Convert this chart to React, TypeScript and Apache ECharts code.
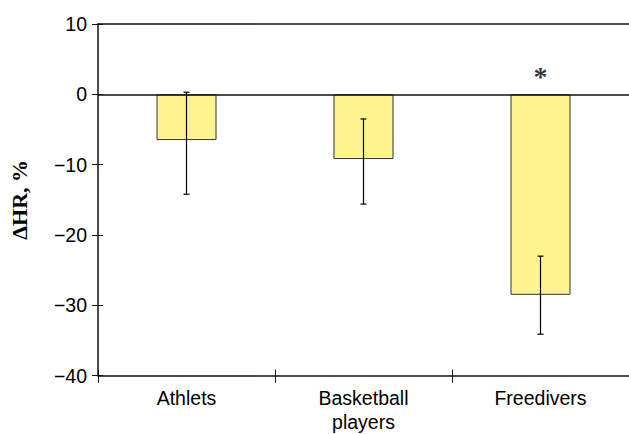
import React, { useEffect, useRef } from "react";
import * as echarts from "echarts";

const categories = ["Athlets", "Basketball\nplayers", "Freedivers"];
const meanValues = [-6.5, -9.2, -28.5];
const errorHigh = [0.3, -3.5, -23.0];
const errorLow = [-14.2, -15.6, -34.1];
const significance = ["", "", "*"];
const yTicks = { min: -40, max: 10, interval: 10 };

const SANS = "Liberation Sans";
const SERIF = "Liberation Serif";
const AXIS_COLOR = "#111";

export default function App() {
  const ref = useRef<HTMLDivElement>(null);

  useEffect(() => {
    document.body.style.margin = "0";
    if (!ref.current) return;
    const chart = echarts.init(ref.current, undefined, { renderer: "svg" });

    const errorData = categories.map((_, i) => [i, errorHigh[i], errorLow[i]]);
    const sigData = categories.map((_, i) => ({
      value: [i, 0],
      label: { show: significance[i] !== "", formatter: significance[i] },
    }));

    chart.setOption({
      animation: false,
      backgroundColor: "#fff",
      grid: { left: 96, top: 24, right: -2.5, bottom: 58.3, containLabel: false },
      xAxis: [
        {
          type: "category",
          data: categories,
          position: "bottom",
          axisLine: { show: true, onZero: false, lineStyle: { color: AXIS_COLOR, width: 1.5 } },
          axisTick: { show: true, inside: false, length: 7, lineStyle: { color: AXIS_COLOR, width: 1 } },
          axisLabel: {
            color: "#000",
            fontFamily: SANS,
            fontSize: 19.5,
            lineHeight: 24,
            margin: 10,
          },
          splitLine: { show: false },
        },
        {
          type: "category",
          data: categories,
          position: "bottom",
          axisLine: { show: false, onZero: false },
          axisTick: { show: true, inside: true, length: 6, lineStyle: { color: AXIS_COLOR, width: 1 } },
          axisLabel: { show: false },
          splitLine: { show: false },
        },
        {
          type: "category",
          data: categories,
          position: "top",
          axisLine: { show: true, onZero: false, lineStyle: { color: AXIS_COLOR, width: 1.5 } },
          axisTick: { show: false },
          axisLabel: { show: false },
          splitLine: { show: false },
        },
      ],
      yAxis: [
        {
          type: "value",
          min: yTicks.min,
          max: yTicks.max,
          interval: yTicks.interval,
          position: "left",
          name: "ΔHR, %",
          nameLocation: "middle",
          nameRotate: 90,
          nameGap: 68,
          nameTextStyle: {
            fontFamily: SERIF,
            fontWeight: "bold",
            fontSize: 22,
            color: "#000",
          },
          axisLine: { show: true, onZero: false, lineStyle: { color: AXIS_COLOR, width: 1.5 } },
          axisTick: { show: true, inside: false, length: 6, lineStyle: { color: AXIS_COLOR, width: 1 } },
          axisLabel: {
            color: "#000",
            fontFamily: SANS,
            fontSize: 19.5,
            margin: 11,
            formatter: (v: number) => String(v).replace("-", "\u2212"),
          },
          splitLine: { show: false },
        },
        {
          type: "value",
          min: yTicks.min,
          max: yTicks.max,
          interval: yTicks.interval,
          position: "left",
          axisLine: { show: false, onZero: false },
          axisTick: { show: true, inside: true, length: 5, lineStyle: { color: AXIS_COLOR, width: 1 } },
          axisLabel: { show: false },
          splitLine: { show: false },
        },
      ],
      series: [
        {
          type: "bar",
          xAxisIndex: 0,
          yAxisIndex: 0,
          data: meanValues,
          barWidth: 60,
          itemStyle: { color: "#FFF490", borderColor: "#333", borderWidth: 1 },
          markLine: {
            silent: true,
            symbol: "none",
            label: { show: false },
            lineStyle: { color: AXIS_COLOR, width: 1.5, type: "solid" },
            data: [{ yAxis: 0 }],
          },
          z: 2,
        },
        {
          type: "custom",
          xAxisIndex: 0,
          yAxisIndex: 0,
          data: errorData,
          encode: { x: 0, y: [1, 2] },
          z: 3,
          renderItem: (_params: any, api: any) => {
            const x = api.value(0);
            const hi = api.coord([x, api.value(1)]);
            const lo = api.coord([x, api.value(2)]);
            const half = 3;
            const style = { stroke: "#000", lineWidth: 1.2 };
            return {
              type: "group",
              children: [
                { type: "line", shape: { x1: hi[0], y1: hi[1], x2: lo[0], y2: lo[1] }, style },
                { type: "line", shape: { x1: hi[0] - half, y1: hi[1], x2: hi[0] + half, y2: hi[1] }, style },
                { type: "line", shape: { x1: lo[0] - half, y1: lo[1], x2: lo[0] + half, y2: lo[1] }, style },
              ],
            };
          },
        },
        {
          type: "scatter",
          xAxisIndex: 0,
          yAxisIndex: 0,
          symbolSize: 0,
          data: sigData,
          z: 4,
          label: {
            position: "top",
            distance: 4,
            color: "#000",
            fontFamily: SERIF,
            fontWeight: "bold",
            fontSize: 28,
          },
        },
      ],
    });

    return () => chart.dispose();
  }, []);

  return <div ref={ref} style={{ width: 629, height: 434 }} />;
}
